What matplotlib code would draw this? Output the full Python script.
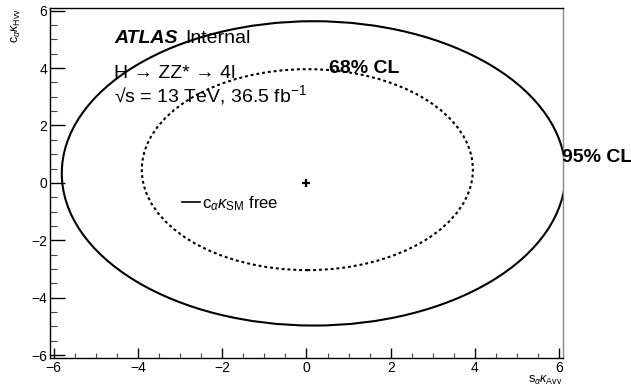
import matplotlib
matplotlib.use("Agg")
import matplotlib.pyplot as plt
from matplotlib.ticker import MultipleLocator
from matplotlib.lines import Line2D
from matplotlib.patches import Ellipse

plt.rcParams['font.family'] = ['Liberation Sans', 'DejaVu Sans']
plt.rcParams['mathtext.fontset'] = 'custom'
plt.rcParams['mathtext.rm'] = 'Liberation Sans'
plt.rcParams['mathtext.it'] = 'Liberation Sans:italic'
plt.rcParams['mathtext.bf'] = 'Liberation Sans:bold'

# Contours: centre (x, y) and full extent (x, y)
cl95_center = [0.17, 0.33]
cl95_extent = [11.96, 10.60]
cl68_center = [0.02, 0.46]
cl68_extent = [7.86, 7.00]

# best fit point
best_x = [0.0]
best_y = [0.0]

W, H = 631, 389
fig = plt.figure(figsize=(W / 100, H / 100), dpi=100)
ax = fig.add_axes([50 / W, 1 - 357.7 / H, 513 / W, 349.4 / H])

ax.add_patch(Ellipse(cl95_center, cl95_extent[0], cl95_extent[1], fill=False,
                     edgecolor='black', lw=1.5))
ax.add_patch(Ellipse(cl68_center, cl68_extent[0], cl68_extent[1], fill=False,
                     edgecolor='black', lw=1.5, linestyle=(0, (1.4, 1.4))))
ax.plot(best_x, best_y, marker='+', color='black', markersize=6, markeredgewidth=1.6, linestyle='none')

ax.set_xlim(-6.09, 6.09)
ax.set_ylim(-6.09, 6.08)

ax.xaxis.set_major_locator(MultipleLocator(2))
ax.xaxis.set_minor_locator(MultipleLocator(0.5))
ax.yaxis.set_major_locator(MultipleLocator(2))
ax.yaxis.set_minor_locator(MultipleLocator(0.5))

ax.tick_params(axis='x', which='major', direction='in', length=7.2, width=1, labelsize=10, pad=2.5)
ax.tick_params(axis='x', which='minor', direction='in', length=3.6, width=0.8, color='#444444')
ax.tick_params(axis='y', which='major', direction='in', length=10.8, width=1, labelsize=10, pad=2.0)
ax.tick_params(axis='y', which='minor', direction='in', length=5.3, width=0.8, color='#444444')

for s in ['left', 'bottom', 'top']:
    ax.spines[s].set_linewidth(1.0)
    ax.spines[s].set_color('black')
ax.spines['right'].set_linewidth(1.0)
ax.spines['right'].set_color('#888888')

ax.set_xlabel(r'$\mathrm{s}_{\alpha}\kappa_{\mathrm{Avv}}$', fontsize=9, loc='right', labelpad=-1)
ax.set_ylabel(r'$\mathrm{c}_{\alpha}\kappa_{\mathrm{Hvv}}$', fontsize=9, loc='top', labelpad=6)

def px(x, y):
    return x / W, 1 - y / H

fig.text(*px(114, 43.3), 'ATLAS', fontsize=14, fontweight='bold', fontstyle='italic', va='baseline')
fig.text(*px(185, 43.3), 'Internal', fontsize=14, va='baseline')
fig.text(*px(114, 78.3), 'H → ZZ* → 4l', fontsize=14, va='baseline')
fig.text(*px(114, 101.7), '√s = 13 TeV, 36.5 fb$^{-1}$', fontsize=14, va='baseline')
fig.text(*px(329.3, 73.3), '68% CL', fontsize=14, fontweight='bold', va='baseline')
fig.text(*px(561.7, 161.7), '95% CL', fontsize=14, fontweight='bold', va='baseline')

handle = Line2D([], [], color='black', lw=1.2)
ax.legend([handle], [r'$\mathrm{c}_{\alpha}\kappa_{\mathrm{SM}}$ free'], loc='center left',
          bbox_to_anchor=((181.7 - 50) / 513, (357.7 - 203.3) / 349.4), frameon=False,
          fontsize=12, handlelength=1.08, handletextpad=0.15, borderpad=0, borderaxespad=0)

fig.savefig('out.png', dpi=100)
